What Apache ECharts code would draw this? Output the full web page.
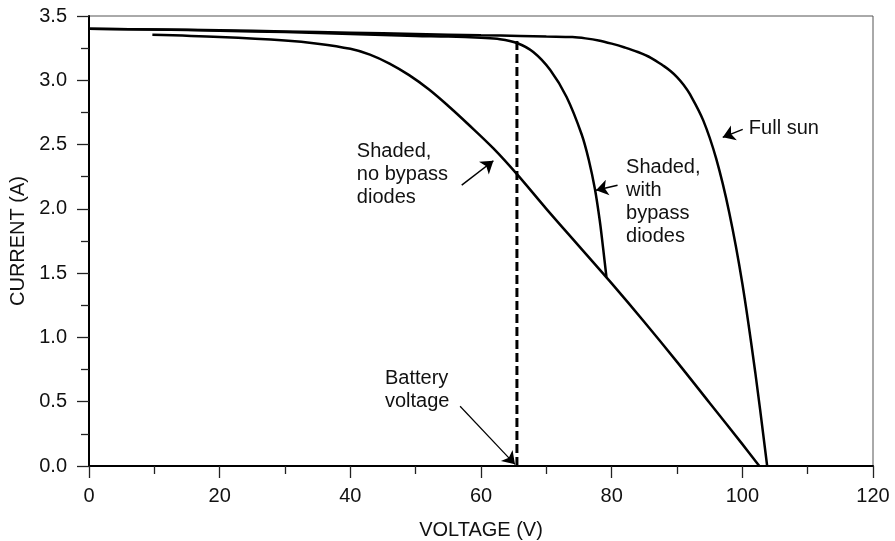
<!DOCTYPE html>
<html>
<head>
<meta charset="utf-8">
<script src="https://cdn.jsdelivr.net/npm/echarts@6/dist/echarts.min.js"></script>
<style>
  html, body { margin: 0; padding: 0; background: #fff; }
  #chart { width: 895px; height: 541px; }
</style>
</head>
<body>
<div id="chart"></div>
<script>
// ---- Data ----
const fullSunVoltage = [0, 10, 20, 30, 40, 50, 60, 66, 70, 74, 76, 78, 80, 82, 84, 86, 88, 89, 90, 91, 92, 94, 96, 98, 100, 102, 103.8];
const fullSunCurrent = [3.40, 3.395, 3.39, 3.38, 3.37, 3.36, 3.35, 3.345, 3.34, 3.336, 3.326, 3.31, 3.285, 3.255, 3.22, 3.175, 3.11, 3.072, 3.025, 2.965, 2.89, 2.69, 2.39, 1.97, 1.42, 0.72, 0];

const bypassVoltage = [0, 10, 20, 30, 40, 50, 55, 60, 62.9, 65.5, 68.0, 70.6, 73.1, 75.4, 76.5, 77.45, 78.2, 78.7, 79.2];
const bypassCurrent = [3.40, 3.395, 3.385, 3.375, 3.36, 3.345, 3.34, 3.33, 3.32, 3.29, 3.22, 3.08, 2.87, 2.58, 2.38, 2.15, 1.90, 1.69, 1.47];

const noBypassVoltage = [9.7, 20, 30, 35, 40, 43, 46, 49, 52, 55, 58, 61.9, 65.5, 70, 75, 80, 85, 90, 95, 100, 102.6];
const noBypassCurrent = [3.354, 3.337, 3.31, 3.285, 3.245, 3.20, 3.13, 3.04, 2.93, 2.80, 2.66, 2.47, 2.27, 2.00, 1.71, 1.42, 1.12, 0.81, 0.49, 0.17, 0];

const batteryVoltage = 65.5;
const batteryLineCurrent = [0, 3.35];

const xTickMin = 0, xTickMax = 120, xTickStep = 20;
const yTickMin = 0, yTickMax = 3.5, yTickStep = 0.5;

// ---- Annotations (data-space anchors) ----
const annotations = [
  { text: 'Full sun', at: [101.0, 2.628], arrowFrom: [100.06, 2.618], arrowTo: [97.0, 2.556] },
  { text: 'Shaded,\nwith\nbypass\ndiodes', at: [82.2, 2.325], arrowFrom: [80.9, 2.184], arrowTo: [77.6, 2.144] },
  { text: 'Shaded,\nno bypass\ndiodes', at: [41.0, 2.444], arrowFrom: [57.05, 2.184], arrowTo: [61.9, 2.374] },
  { text: 'Battery\nvoltage', at: [45.3, 0.68], arrowFrom: [56.8, 0.465], arrowTo: [65.2, 0.013], thin: true }
];

const zip = (xs, ys) => xs.map((x, i) => [x, ys[i]]);
const FONT = '"Liberation Sans", Arial, Helvetica, sans-serif';
const TXT = '#111';

const chart = echarts.init(document.getElementById('chart'), null, { renderer: 'canvas' });

const curveStyle = { color: '#000', width: 2.5 };

const option = {
  backgroundColor: '#fff',
  animation: false,
  grid: {
    left: 89, right: 22, top: 16, bottom: 75, containLabel: false, outerBoundsMode: 'none',
    show: true, borderColor: '#555', borderWidth: 1
  },
  xAxis: {
    type: 'value', min: xTickMin, max: xTickMax, interval: xTickStep,
    name: 'VOLTAGE (V)', nameLocation: 'middle', nameGap: 54,
    nameTextStyle: { fontFamily: FONT, fontSize: 20, color: TXT },
    axisLine: { show: true, onZero: false, lineStyle: { color: '#000', width: 2 } },
    axisTick: { show: true, inside: false, length: 12, lineStyle: { color: '#222', width: 1.3 } },
    minorTick: { show: true, splitNumber: 2, length: 8, lineStyle: { color: '#222', width: 1.3 } },
    splitLine: { show: false },
    axisLabel: { fontFamily: FONT, fontSize: 20, color: TXT, margin: 20 }
  },
  yAxis: {
    type: 'value', min: yTickMin, max: yTickMax, interval: yTickStep,
    name: 'CURRENT (A)', nameLocation: 'middle', nameGap: 61, nameRotate: 90,
    nameTextStyle: { fontFamily: FONT, fontSize: 20, color: TXT },
    axisLine: { show: true, onZero: false, lineStyle: { color: '#000', width: 2 } },
    axisTick: { show: true, inside: false, length: 12, lineStyle: { color: '#222', width: 1.3 } },
    minorTick: { show: true, splitNumber: 2, length: 8, lineStyle: { color: '#222', width: 1.3 } },
    splitLine: { show: false },
    axisLabel: { fontFamily: FONT, fontSize: 20, color: TXT, margin: 22, formatter: v => v.toFixed(1) }
  },
  series: [
    {
      name: 'Full sun', type: 'line', data: zip(fullSunVoltage, fullSunCurrent),
      showSymbol: false, smooth: 0.35, lineStyle: curveStyle, z: 3
    },
    {
      name: 'Shaded, with bypass diodes', type: 'line', data: zip(bypassVoltage, bypassCurrent),
      showSymbol: false, smooth: 0.35, lineStyle: curveStyle, z: 3
    },
    {
      name: 'Shaded, no bypass diodes', type: 'line', data: zip(noBypassVoltage, noBypassCurrent),
      showSymbol: false, smooth: 0.35, lineStyle: curveStyle, z: 3
    },
    {
      name: 'Battery voltage', type: 'line',
      data: batteryLineCurrent.map(c => [batteryVoltage, c]),
      showSymbol: false, lineStyle: { color: '#000', width: 3, type: [9, 4] }, z: 4
    },
    {
      name: 'arrows', type: 'lines', coordinateSystem: 'cartesian2d',
      symbol: ['none', 'arrow'], symbolSize: 12, z: 5,
      lineStyle: { color: '#000', width: 1.5, opacity: 1 },
      data: annotations.map(a => ({
        coords: [a.arrowFrom, a.arrowTo],
        lineStyle: { width: a.thin ? 1.2 : 1.5 }
      }))
    }
  ]
};

chart.setOption(option);

const graphics = annotations.map(a => {
  const p = chart.convertToPixel({ gridIndex: 0 }, a.at);
  return {
    type: 'text', x: p[0], y: p[1] - 11.5, z: 10,
    style: { text: a.text, fontFamily: FONT, fontSize: 20, fill: TXT, align: 'left', verticalAlign: 'top', lineHeight: 23 }
  };
});
chart.setOption({ graphic: graphics });
</script>
</body>
</html>
